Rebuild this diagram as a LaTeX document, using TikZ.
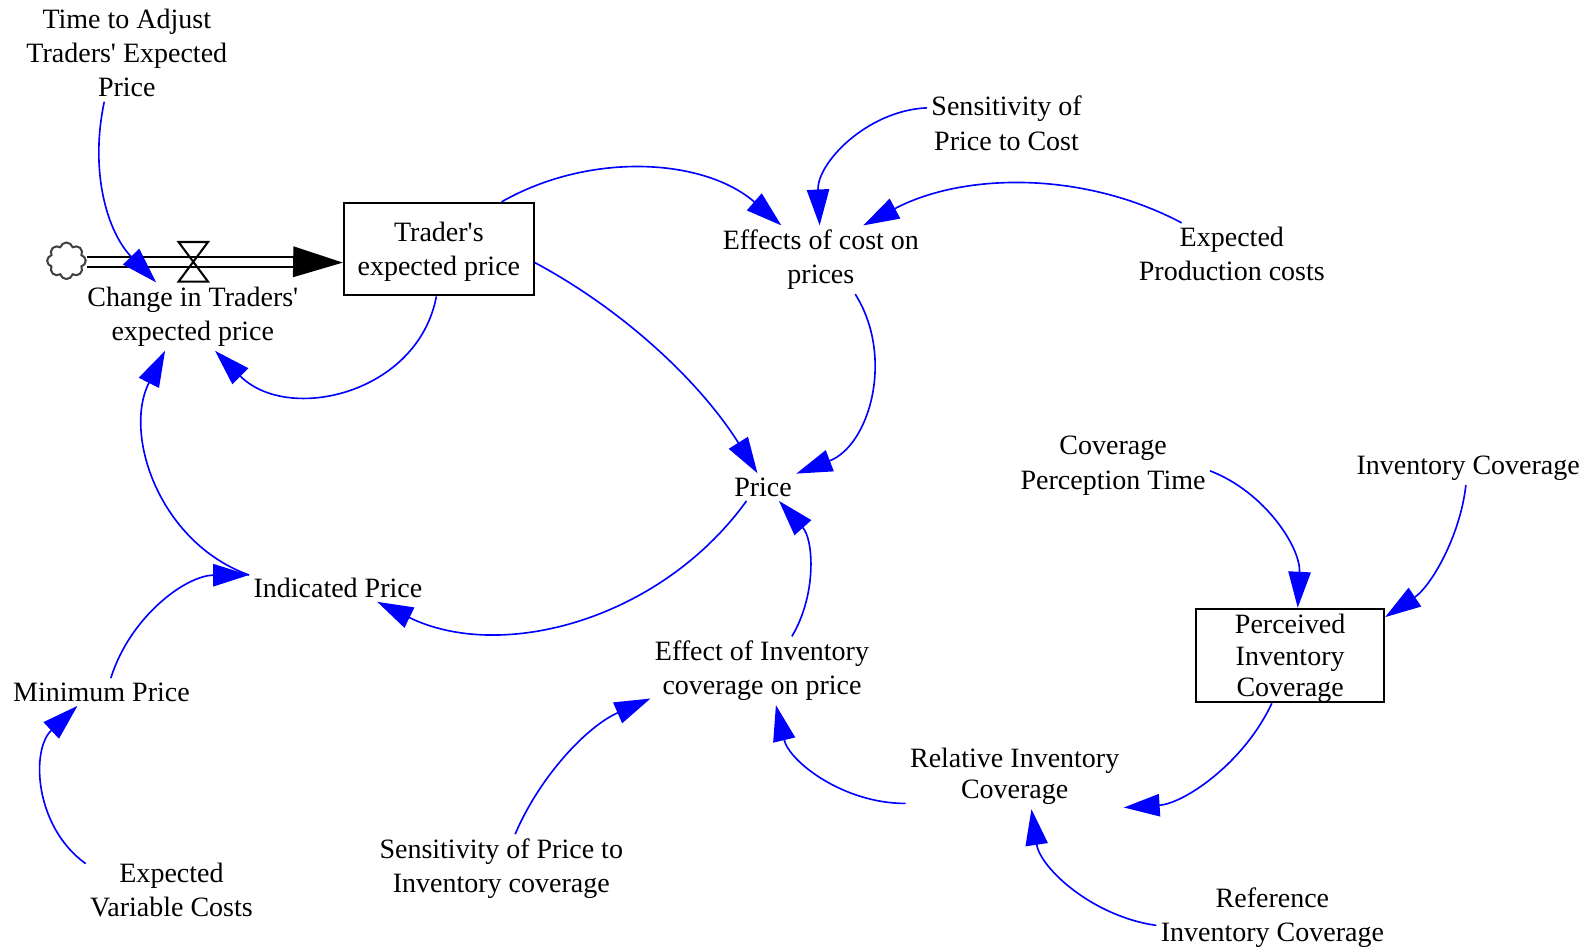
\documentclass[tikz,border=0pt]{standalone}
\usepackage{fontspec}
\setmainfont{Liberation Serif}
\usetikzlibrary{arrows.meta,shapes.symbols}
\definecolor{linkblue}{RGB}{0,0,255}
\newcommand{\varsize}{\fontsize{13.8pt}{16.8pt}\selectfont}
\newcommand{\tightsize}{\fontsize{13.8pt}{15.5pt}\selectfont}
\newcommand{\q}{\textquotesingle}

\begin{document}
\begin{tikzpicture}[x=0.5pt, y=-0.5pt,
    var/.style={align=center, inner sep=2pt, font=\varsize},
    stock/.style={draw, line width=1.1pt, align=center, inner sep=0pt, font=\varsize},
    link/.style={linkblue, line width=0.8pt, -{Triangle[length=17.7pt,width=11pt]}},
    pipe/.style={double, double distance=3.75pt, line width=1pt},
    flowhead/.style={line width=1pt, -{Triangle[length=24.5pt,width=15pt]}}]

    \useasboundingbox (0,0) rectangle (1568,934);

    % Stocks
    \node[stock, text depth=-2.5pt, minimum width=93.5pt, minimum height=45.5pt] (tep) at (432.5,245.5) {Trader\q s\\expected price};
    \node[stock, font=\tightsize, text depth=-1.5pt, minimum width=92.5pt, minimum height=46pt] (pic) at (1271.5,646) {Perceived\\Inventory\\Coverage};

    % Flow into the trader's price
    \node[cloud, cloud puffs=8, aspect=1.05, draw=black!75, line width=1pt, minimum width=19pt, minimum height=18pt, inner sep=0pt] (src) at (65.5,257) {};
    \coordinate (fbase) at (290,258);
    \coordinate (valve) at (190.5,258);
    \draw[pipe] (src.east |- fbase) -- (fbase);
    \draw[flowhead] (fbase) -- (tep.-172);
    \draw[line width=1pt] (valve) ++(-14.5,-19.5) -- ++(29,0) -- ++(-29,39) -- ++(29,0) -- cycle;

    % Variables
    \node[var] (tta) at (125,52.5) {Time to Adjust\\Traders\q{} Expected\\Price};
    \node[var] (chg) at (190,312) {Change in Traders\q\\expected price};
    \node[var] (eff) at (809,256) {Effects of cost on\\prices};
    \node[var] (spc) at (992,121.5) {Sensitivity of\\Price to Cost};
    \node[var] (epc) at (1214,250.5) {Expected\\Production costs};
    \node[var] (price) at (752,480) {Price};
    \node[var] (ind) at (333,579) {Indicated Price};
    \node[var] (minp) at (100,682) {Minimum Price};
    \node[var] (evc) at (169,877) {Expected\\Variable Costs};
    \node[var] (eic) at (751,661) {Effect of Inventory\\coverage on price};
    \node[var] (spi) at (494,856) {Sensitivity of Price to\\Inventory coverage};
    \node[var, font=\tightsize] (ric) at (1000,765) {Relative Inventory\\Coverage};
    \node[var] (ref) at (1254,904) {Reference\\Inventory Coverage};
    \node[var] (cpt) at (1097,459) {Coverage\\Perception Time};
    \node[var] (ic) at (1447,461.5) {Inventory Coverage};

    % Links, left part
    \draw[link] (tta.-115) .. controls (88,170) and (106,229) .. (chg.137);
    \draw[link] (tep.-93) .. controls (412,388) and (284,418) .. (chg.-57);
    \draw[link] (ind.172) .. controls (157,535) and (121,428) .. (chg.-129);
    \draw[link] (minp.56) .. controls (128,608) and (183,567) .. (ind.172);
    \draw[link] (evc.163) .. controls (34,815) and (30,739) .. (minp.-150);
    \draw[link] (price.-140) .. controls (651,611) and (494,653) .. (ind.-20);

    % Links around the price
    \draw[link] (tep.37) .. controls (582,149) and (694,156) .. (eff.139);
    \draw[link] (tep.-8) .. controls (617,307) and (691,378) .. (price.112);
    \draw[link] (spc.169) .. controls (854,109) and (805,161) .. (eff.92);
    \draw[link] (epc.148) .. controls (1065,167) and (947,171) .. (eff.39);
    \draw[link] (eff.-45) .. controls (882,352) and (857,439) .. (price.22);
    \draw[link] (eic.49) .. controls (805,586) and (802,532) .. (price.-41);

    % Links, inventory part
    \draw[link] (spi.68) .. controls (533,763) and (580,715) .. (eic.-166);
    \draw[link] (ric.-166) .. controls (832,792) and (778,751) .. (eic.-68);
    \draw[link] (pic.-111) .. controls (1226,752) and (1167,792) .. (ric.-16);
    \draw[link] (ref.-176) .. controls (1076,903) and (1025,855) .. (ric.-63);
    \draw[link] (cpt.-3) .. controls (1247,485) and (1282,540) .. (pic.81);
    \draw[link] (ic.-98) .. controls (1439,529) and (1410,578) .. (pic.22.5);
\end{tikzpicture}
\end{document}
